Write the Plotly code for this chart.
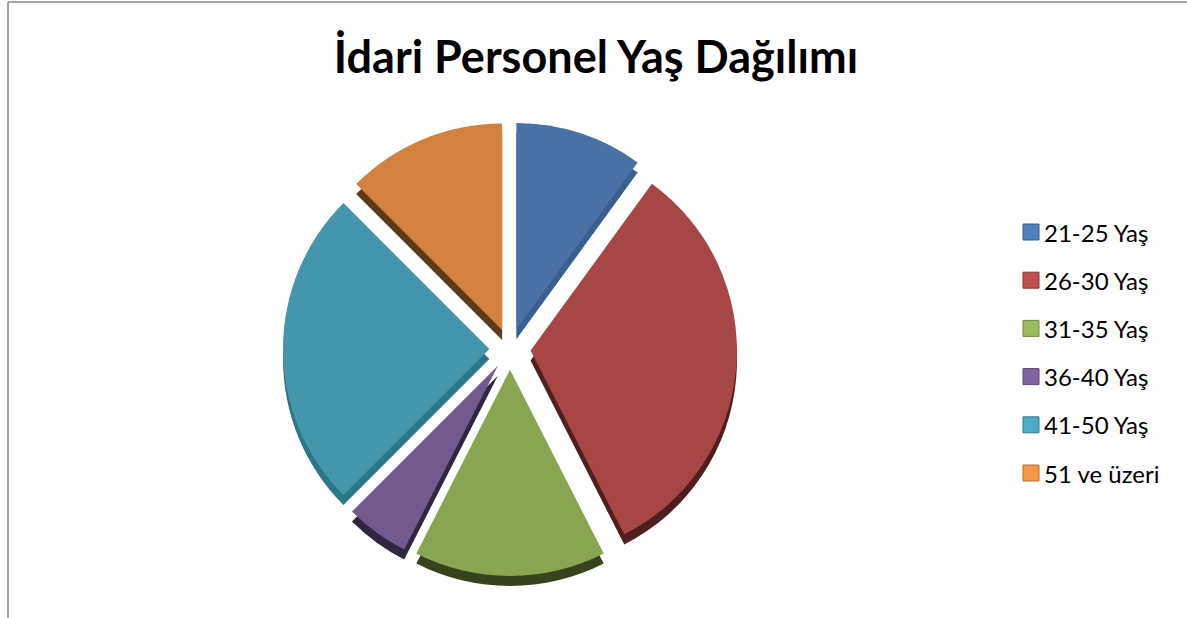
import plotly.graph_objects as go

categories = ["21-25 Yaş", "26-30 Yaş", "31-35 Yaş", "36-40 Yaş", "41-50 Yaş", "51 ve üzeri"]
values = [4, 13, 6, 2, 10, 5]
colors = ["#4872A6", "#A64745", "#89A552", "#735A8E", "#4496AD", "#D28240"]
shades = ["#3A6090", "#4E1F1E", "#37431C", "#30263F", "#2C7688", "#5C3A1A"]
swatches = ["#4F81BD", "#C0504D", "#9BBB59", "#8064A2", "#4BACC6", "#F79646"]
swatch_edges = ["#385D8A", "#8C3836", "#71893F", "#5C4776", "#357D91", "#B66D31"]
pulls = [0.1] * 6
W, H = 1187, 618
LEG_Y0, LEG_STEP = 232, 48.2

def dom(cx, cy, r):
    return dict(x=[(cx - r) / W, (cx + r) / W], y=[1 - (cy + r) / H, 1 - (cy - r) / H])

fig = go.Figure()
fig.add_trace(go.Pie(labels=categories, values=values, sort=False, direction="clockwise", rotation=0,
                     pull=pulls, marker=dict(colors=shades, line=dict(width=0)), textinfo="none",
                     hoverinfo="skip", showlegend=False, domain=dom(510, 359, 227)))
fig.add_trace(go.Pie(labels=categories, values=values, sort=False, direction="clockwise", rotation=0,
                     pull=pulls, marker=dict(colors=colors, line=dict(width=0)), textinfo="none",
                     showlegend=False, domain=dom(510, 349, 227)))

shapes = [
    dict(type="line", xref="paper", yref="paper", x0=8 / W, x1=1, y0=1 - 2 / H, y1=1 - 2 / H, line=dict(color="#868686", width=1.5)),
    dict(type="line", xref="paper", yref="paper", x0=8 / W, x1=8 / W, y0=1 - 2 / H, y1=0, line=dict(color="#868686", width=1.5)),
]
annotations = []
for i, name in enumerate(categories):
    yc = LEG_Y0 + i * LEG_STEP
    shapes.append(dict(type="rect", xref="paper", yref="paper", x0=1023 / W, x1=1039 / W,
                       y0=1 - (yc + 8) / H, y1=1 - (yc - 8) / H,
                       fillcolor=swatches[i], line=dict(color=swatch_edges[i], width=1)))
    annotations.append(dict(text=name, xref="paper", yref="paper", x=1042 / W, y=1 - yc / H,
                            xanchor="left", yanchor="middle", showarrow=False,
                            font=dict(size=24, family="Lato, Open Sans, sans-serif", color="black")))

fig.update_layout(
    width=W, height=H, margin=dict(l=0, r=0, t=0, b=0), paper_bgcolor="white",
    font=dict(family="Lato, Open Sans, sans-serif", color="black"),
    title=dict(text="<b>İdari Personel Yaş Dağılımı</b>", x=596 / W, xanchor="center", y=1 - 57 / H, yanchor="middle",
               font=dict(size=45, family="Lato, Open Sans, sans-serif", color="black")),
    showlegend=False, shapes=shapes, annotations=annotations,
)
fig.write_html("out.html", config={"displayModeBar": False}, post_script="document.body.style.margin='0';")
